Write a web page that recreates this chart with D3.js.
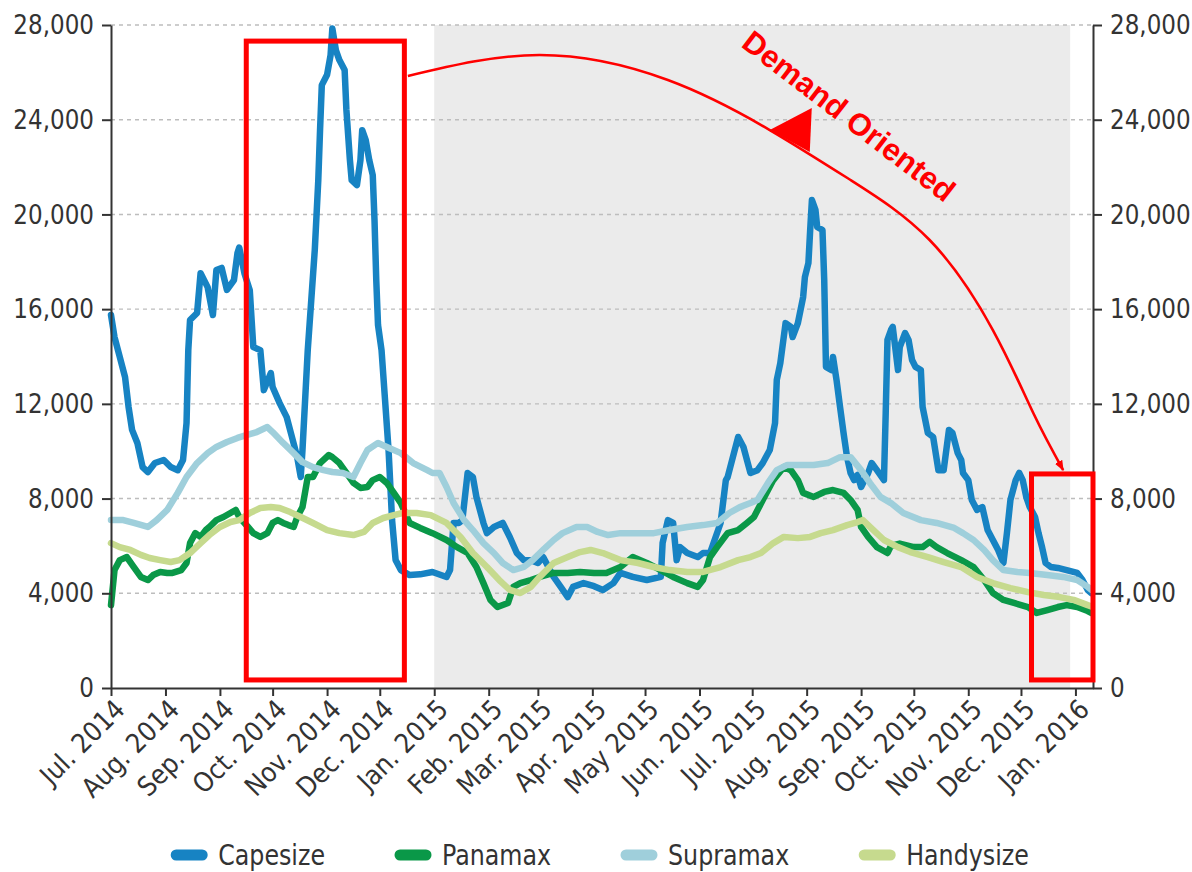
<!DOCTYPE html>
<html>
<head>
<meta charset="utf-8">
<script src="https://cdn.jsdelivr.net/npm/d3@7"></script>
<style>
  body { margin: 0; background: #ffffff; }
  svg { display: block; }
  .lbl { font-family: "DejaVu Sans Condensed", "Liberation Sans Narrow", "DejaVu Sans", sans-serif; font-stretch: condensed; fill: #333; }
</style>
</head>
<body>
<svg id="chart" width="1192" height="872"></svg>
<script>
// ---- data ----
const monthTicks = ["2014-07-01","2014-08-01","2014-09-01","2014-10-01","2014-11-01","2014-12-01",
  "2015-01-01","2015-02-01","2015-03-01","2015-04-01","2015-05-01","2015-06-01","2015-07-01",
  "2015-08-01","2015-09-01","2015-10-01","2015-11-01","2015-12-01","2016-01-01"];
const monthLabels = ["Jul. 2014","Aug. 2014","Sep. 2014","Oct. 2014","Nov. 2014","Dec. 2014",
  "Jan. 2015","Feb. 2015","Mar. 2015","Apr. 2015","May 2015","Jun. 2015","Jul. 2015",
  "Aug. 2015","Sep. 2015","Oct. 2015","Nov. 2015","Dec. 2015","Jan. 2016"];
const yTicks = [0, 4000, 8000, 12000, 16000, 20000, 24000, 28000];
const seriesNames = ["Capesize", "Panamax", "Supramax", "Handysize"];
const seriesColors = ["#1783c3", "#0a9848", "#9fcfdb", "#c6da8e"];

const capesize = [["2014-07-01",15750],["2014-07-03",14820],["2014-07-06",13980],["2014-07-09",13130],["2014-07-11",11870],["2014-07-13",10900],["2014-07-16",10350],["2014-07-19",9330],["2014-07-22",9120],["2014-07-26",9500],["2014-07-31",9630],["2014-08-04",9330],["2014-08-08",9200],["2014-08-11",9630],["2014-08-13",11190],["2014-08-14",14270],["2014-08-15",15540],["2014-08-19",15840],["2014-08-21",17520],["2014-08-25",16930],["2014-08-28",15750],["2014-08-30",17650],["2014-09-02",17740],["2014-09-05",16810],["2014-09-09",17230],["2014-09-11",18370],["2014-09-12",18600],["2014-09-15",17500],["2014-09-18",16800],["2014-09-20",14400],["2014-09-24",14270],["2014-09-26",12580],["2014-09-30",13300],["2014-10-01",12710],["2014-10-05",12030],["2014-10-09",11440],["2014-10-12",10600],["2014-10-15",9750],["2014-10-17",8910],["2014-10-18",10050],["2014-10-21",14270],["2014-10-23",16380],["2014-10-25",18500],["2014-10-27",21450],["2014-10-28",23560],["2014-10-29",25460],["2014-11-01",25900],["2014-11-03",26730],["2014-11-04",27850],["2014-11-06",26940],["2014-11-08",26520],["2014-11-11",26100],["2014-11-12",24410],["2014-11-14",22300],["2014-11-15",21450],["2014-11-18",21240],["2014-11-20",22300],["2014-11-21",23560],["2014-11-23",23140],["2014-11-25",22300],["2014-11-27",21660],["2014-11-28",19760],["2014-11-29",17230],["2014-11-30",15330],["2014-12-02",14270],["2014-12-04",12160],["2014-12-06",10050],["2014-12-08",7090],["2014-12-10",5410],["2014-12-13",4980],["2014-12-18",4770],["2014-12-24",4800],["2014-12-31",4900],["2015-01-08",4690],["2015-01-10",4980],["2015-01-12",6970],["2015-01-15",6970],["2015-01-17",7090],["2015-01-20",9080],["2015-01-23",8910],["2015-01-25",8070],["2015-01-29",6970],["2015-01-31",6540],["2015-02-04",6800],["2015-02-09",6970],["2015-02-13",6380],["2015-02-17",5700],["2015-02-21",5400],["2015-02-25",5400],["2015-03-01",5280],["2015-03-04",5530],["2015-03-10",4690],["2015-03-14",4270],["2015-03-18",3840],["2015-03-21",4270],["2015-03-27",4430],["2015-04-02",4300],["2015-04-07",4140],["2015-04-13",4430],["2015-04-17",4860],["2015-04-24",4690],["2015-05-02",4560],["2015-05-10",4690],["2015-05-11",6120],["2015-05-14",7090],["2015-05-17",6970],["2015-05-19",5400],["2015-05-21",5950],["2015-05-25",5700],["2015-05-31",5530],["2015-06-03",5700],["2015-06-07",5700],["2015-06-13",6970],["2015-06-16",8780],["2015-06-17",8900],["2015-06-23",10600],["2015-06-26",10180],["2015-06-30",9080],["2015-07-04",9200],["2015-07-07",9500],["2015-07-11",10050],["2015-07-14",11190],["2015-07-15",13010],["2015-07-17",13720],["2015-07-20",15410],["2015-07-23",15250],["2015-07-24",14820],["2015-07-27",15410],["2015-07-30",16510],["2015-07-31",17360],["2015-08-02",17950],["2015-08-03",19340],["2015-08-04",20610],["2015-08-06",20190],["2015-08-07",19470],["2015-08-10",19340],["2015-08-11",17230],["2015-08-12",13560],["2015-08-15",13430],["2015-08-16",13980],["2015-08-18",13010],["2015-08-20",11870],["2015-08-22",10770],["2015-08-24",9750],["2015-08-26",9080],["2015-08-28",8780],["2015-08-30",9000],["2015-09-01",8490],["2015-09-05",9080],["2015-09-07",9500],["2015-09-10",9200],["2015-09-14",8780],["2015-09-15",11610],["2015-09-16",14700],["2015-09-18",15120],["2015-09-19",15250],["2015-09-22",13430],["2015-09-23",14400],["2015-09-26",14990],["2015-09-28",14700],["2015-09-30",13850],["2015-10-02",13560],["2015-10-05",13430],["2015-10-06",11870],["2015-10-09",10770],["2015-10-12",10600],["2015-10-15",9200],["2015-10-18",9200],["2015-10-21",10900],["2015-10-23",10770],["2015-10-26",9920],["2015-10-28",9630],["2015-10-29",9080],["2015-11-01",8780],["2015-11-03",7940],["2015-11-06",7520],["2015-11-09",7640],["2015-11-12",6670],["2015-11-15",6250],["2015-11-18",5830],["2015-11-21",5280],["2015-11-23",6540],["2015-11-25",7940],["2015-11-28",8780],["2015-11-30",9080],["2015-12-02",8780],["2015-12-04",8070],["2015-12-06",7640],["2015-12-09",7220],["2015-12-11",6540],["2015-12-13",5950],["2015-12-15",5280],["2015-12-18",5110],["2015-12-22",5070],["2015-12-27",4980],["2016-01-02",4860],["2016-01-05",4560],["2016-01-08",4140],["2016-01-10",4010]];

const panamax = [["2014-07-01",3500],["2014-07-03",4980],["2014-07-06",5400],["2014-07-10",5530],["2014-07-14",5110],["2014-07-18",4690],["2014-07-22",4560],["2014-07-25",4770],["2014-07-29",4900],["2014-08-02",4860],["2014-08-05",4860],["2014-08-10",4980],["2014-08-13",5280],["2014-08-15",6120],["2014-08-18",6540],["2014-08-21",6380],["2014-08-24",6670],["2014-08-26",6800],["2014-08-30",7090],["2014-09-03",7220],["2014-09-07",7390],["2014-09-10",7520],["2014-09-12",7220],["2014-09-17",6800],["2014-09-20",6540],["2014-09-24",6380],["2014-09-28",6540],["2014-10-01",6970],["2014-10-04",7090],["2014-10-07",6970],["2014-10-10",6880],["2014-10-13",6800],["2014-10-15",7220],["2014-10-18",7640],["2014-10-21",8910],["2014-10-24",8910],["2014-10-28",9500],["2014-11-02",9840],["2014-11-04",9750],["2014-11-08",9500],["2014-11-12",9080],["2014-11-16",8660],["2014-11-20",8450],["2014-11-24",8490],["2014-11-27",8780],["2014-12-01",8910],["2014-12-05",8660],["2014-12-09",8240],["2014-12-13",7810],["2014-12-18",6970],["2014-12-24",6760],["2014-12-31",6540],["2015-01-08",6250],["2015-01-14",5950],["2015-01-20",5700],["2015-01-25",5110],["2015-01-29",4430],["2015-02-02",3720],["2015-02-06",3420],["2015-02-12",3590],["2015-02-15",4270],["2015-02-19",4430],["2015-02-25",4560],["2015-03-02",4690],["2015-03-10",4860],["2015-03-18",4860],["2015-03-25",4900],["2015-04-02",4860],["2015-04-09",4860],["2015-04-17",5110],["2015-04-24",5530],["2015-05-02",5280],["2015-05-10",4980],["2015-05-17",4690],["2015-05-25",4430],["2015-05-31",4270],["2015-06-03",4560],["2015-06-07",5530],["2015-06-11",5950],["2015-06-17",6540],["2015-06-23",6670],["2015-06-28",6970],["2015-07-02",7220],["2015-07-07",7940],["2015-07-13",8780],["2015-07-19",9330],["2015-07-23",9200],["2015-07-27",8780],["2015-07-30",8240],["2015-08-05",8070],["2015-08-11",8280],["2015-08-16",8360],["2015-08-22",8240],["2015-08-26",7940],["2015-08-30",7520],["2015-09-01",6800],["2015-09-05",6380],["2015-09-10",5950],["2015-09-16",5700],["2015-09-18",6000],["2015-09-23",6100],["2015-10-01",5950],["2015-10-06",5950],["2015-10-10",6170],["2015-10-14",5950],["2015-10-20",5700],["2015-10-28",5400],["2015-11-04",5110],["2015-11-10",4560],["2015-11-15",4010],["2015-11-21",3720],["2015-11-27",3590],["2015-12-05",3420],["2015-12-10",3170],["2015-12-16",3290],["2015-12-22",3420],["2015-12-27",3500],["2016-01-02",3420],["2016-01-08",3250],["2016-01-10",3170]];

const supramax = [["2014-07-01",7090],["2014-07-08",7090],["2014-07-14",6970],["2014-07-22",6800],["2014-07-27",7090],["2014-08-02",7520],["2014-08-08",8240],["2014-08-13",8910],["2014-08-19",9500],["2014-08-25",9920],["2014-08-30",10180],["2014-09-05",10390],["2014-09-11",10560],["2014-09-16",10680],["2014-09-22",10810],["2014-09-28",11020],["2014-10-01",10810],["2014-10-07",10350],["2014-10-13",9920],["2014-10-18",9540],["2014-10-24",9330],["2014-10-30",9200],["2014-11-04",9120],["2014-11-10",9080],["2014-11-16",8910],["2014-11-20",9500],["2014-11-24",10050],["2014-11-30",10350],["2014-12-05",10180],["2014-12-13",9920],["2014-12-20",9500],["2014-12-28",9200],["2014-12-31",9080],["2015-01-04",9080],["2015-01-08",8490],["2015-01-12",7810],["2015-01-18",7090],["2015-01-23",6670],["2015-01-29",6120],["2015-02-04",5700],["2015-02-09",5280],["2015-02-15",4980],["2015-02-21",5110],["2015-02-26",5400],["2015-03-04",5830],["2015-03-10",6250],["2015-03-15",6540],["2015-03-23",6800],["2015-03-29",6800],["2015-04-04",6590],["2015-04-10",6460],["2015-04-17",6540],["2015-04-27",6540],["2015-05-06",6540],["2015-05-15",6670],["2015-05-25",6800],["2015-06-03",6880],["2015-06-11",6970],["2015-06-18",7390],["2015-06-24",7640],["2015-06-30",7810],["2015-07-04",7940],["2015-07-10",8660],["2015-07-15",9200],["2015-07-21",9420],["2015-07-28",9420],["2015-08-05",9420],["2015-08-13",9500],["2015-08-20",9750],["2015-08-26",9750],["2015-09-01",9200],["2015-09-06",8660],["2015-09-12",8070],["2015-09-18",7810],["2015-09-25",7390],["2015-10-05",7090],["2015-10-14",6970],["2015-10-24",6760],["2015-10-29",6540],["2015-11-04",6250],["2015-11-10",5830],["2015-11-15",5400],["2015-11-21",4980],["2015-11-29",4900],["2015-12-06",4860],["2015-12-16",4770],["2015-12-25",4690],["2016-01-02",4560],["2016-01-08",4270],["2016-01-10",4150]];

const handysize = [["2014-07-01",6120],["2014-07-06",5950],["2014-07-12",5830],["2014-07-18",5620],["2014-07-23",5490],["2014-07-29",5400],["2014-08-04",5320],["2014-08-09",5400],["2014-08-15",5700],["2014-08-21",6120],["2014-08-26",6460],["2014-09-01",6800],["2014-09-07",7010],["2014-09-12",7090],["2014-09-18",7390],["2014-09-24",7600],["2014-09-30",7640],["2014-10-05",7600],["2014-10-11",7430],["2014-10-17",7220],["2014-10-24",6970],["2014-11-01",6670],["2014-11-08",6540],["2014-11-16",6460],["2014-11-22",6590],["2014-11-27",6970],["2014-12-03",7180],["2014-12-09",7300],["2014-12-14",7390],["2014-12-22",7390],["2014-12-30",7300],["2015-01-08",6970],["2015-01-16",6380],["2015-01-23",5700],["2015-01-31",5110],["2015-02-07",4560],["2015-02-13",4140],["2015-02-19",4010],["2015-02-25",4270],["2015-03-02",4690],["2015-03-10",5280],["2015-03-18",5530],["2015-03-25",5740],["2015-03-31",5830],["2015-04-07",5700],["2015-04-17",5400],["2015-04-27",5280],["2015-05-06",5110],["2015-05-15",4980],["2015-05-25",4900],["2015-06-03",4900],["2015-06-13",5110],["2015-06-23",5400],["2015-06-30",5530],["2015-07-06",5700],["2015-07-13",6120],["2015-07-19",6380],["2015-07-27",6330],["2015-08-03",6380],["2015-08-09",6540],["2015-08-16",6670],["2015-08-24",6880],["2015-08-30",7010],["2015-09-02",7090],["2015-09-08",6670],["2015-09-14",6250],["2015-09-22",5950],["2015-09-29",5740],["2015-10-09",5530],["2015-10-18",5320],["2015-10-28",5110],["2015-11-06",4690],["2015-11-15",4430],["2015-11-25",4220],["2015-12-05",4050],["2015-12-14",3930],["2015-12-23",3840],["2015-12-31",3720],["2016-01-08",3500],["2016-01-10",3450]];

const seriesValues = [capesize, panamax, supramax, handysize];

// annotation anchors (date, value)
const focusBand = ["2015-01-01", "2015-12-29"];
const boxBefore = [["2014-09-16", 27320], ["2014-12-15", 340]];
const boxAfter = [["2015-12-07", 9040], ["2016-01-11", 340]];
const arrowPath = [["2014-12-17",25845],["2015-03-02",26731],["2015-05-14",25676],["2015-07-11",23565],["2015-08-26",21453],["2015-10-10",18919],["2015-11-15",15118],["2015-12-08",11613],["2015-12-25",9206]];
const arrowMarkAt = ["2015-07-11", 23565];
const noteAt = ["2015-06-24", 27110];
const noteText = "Demand Oriented";

// ---- layout ----
const parse = d3.timeParse("%Y-%m-%d");
const svg = d3.select("#chart");
const W = 1192, H = 872;
svg.append("rect").attr("width", W).attr("height", H).attr("fill", "#fff");

const x = d3.scaleTime()
  .domain([parse("2014-07-01"), parse("2016-01-11")])
  .range([111, 1093]);
const y = d3.scaleLinear().domain([0, 28000]).range([688, 25]);

const plot = svg.append("g");

// shaded period
plot.append("rect")
  .attr("x", x(parse(focusBand[0])))
  .attr("y", y(28000))
  .attr("width", x(parse(focusBand[1])) - x(parse(focusBand[0])))
  .attr("height", y(0) - y(28000))
  .attr("fill", "#ebebeb");

// dashed gridlines
plot.append("g").selectAll("line")
  .data(yTicks.filter(d => d > 0))
  .join("line")
  .attr("x1", x.range()[0]).attr("x2", x.range()[1])
  .attr("y1", d => y(d)).attr("y2", d => y(d))
  .attr("stroke", "#bdbdbd").attr("stroke-width", 1.4)
  .attr("stroke-dasharray", "4,4");

// series lines
const line = d3.line()
  .x(d => x(parse(d[0])))
  .y(d => y(d[1]))
  .curve(d3.curveLinear);

plot.append("g").selectAll("path")
  .data(seriesValues)
  .join("path")
  .attr("d", d => line(d))
  .attr("fill", "none")
  .attr("stroke", (d, i) => seriesColors[i])
  .attr("stroke-width", 6.5)
  .attr("stroke-linejoin", "round")
  .attr("stroke-linecap", "round");

// axes
const axisColor = "#333";
const fmt = d3.format(",");
const left = svg.append("g").attr("transform", `translate(${x.range()[0]},0)`)
  .call(d3.axisLeft(y).tickValues(yTicks).tickFormat(fmt).tickSize(9).tickSizeOuter(0));
const right = svg.append("g").attr("transform", `translate(${x.range()[1]},0)`)
  .call(d3.axisRight(y).tickValues(yTicks).tickFormat(fmt).tickSize(9).tickSizeOuter(0));
const bottom = svg.append("g").attr("transform", `translate(0,${y(0)})`)
  .call(d3.axisBottom(x).tickValues(monthTicks.map(parse)).tickFormat((d, i) => monthLabels[i]).tickSize(8).tickSizeOuter(0));

[left, right, bottom].forEach(g => {
  g.select(".domain").attr("stroke", axisColor).attr("stroke-width", 2);
  g.selectAll(".tick line").attr("stroke", axisColor).attr("stroke-width", 2);
  g.selectAll(".tick text").attr("class", "lbl").attr("font-size", 27).attr("fill", "#333");
});
left.selectAll(".tick text").attr("x", null).attr("transform", "translate(-17,0) scale(0.95,1)");
right.selectAll(".tick text").attr("x", null).attr("transform", "translate(17,0) scale(0.95,1)");
bottom.selectAll(".tick text")
  .attr("text-anchor", "end")
  .attr("dy", 0)
  .attr("y", 0)
  .attr("transform", "translate(15,23) rotate(-45)");

// legend
const legend = svg.append("g");
const items = legend.selectAll("g").data(seriesNames).join("g");
items.append("line")
  .attr("x1", 5).attr("x2", 31).attr("y1", 0).attr("y2", 0)
  .attr("stroke", (d, i) => seriesColors[i]).attr("stroke-width", 11).attr("stroke-linecap", "round");
const legendScale = 0.91;
items.append("text").attr("class", "lbl")
  .attr("transform", `translate(47,0) scale(${legendScale},1)`)
  .attr("dy", "0.35em")
  .attr("font-size", 29).attr("fill", "#333")
  .text(d => d);
const widths = [];
items.each(function () {
  widths.push(47 + legendScale * this.querySelector("text").getComputedTextLength());
});
const gap = 70;
const total = d3.sum(widths) + gap * (widths.length - 1);
let cursor = 600 - total / 2;
items.attr("transform", (d, i) => {
  const t = `translate(${cursor},855)`;
  cursor += widths[i] + gap;
  return t;
});

// annotations
const red = "#ff0000";
const ann = svg.append("g");
[boxBefore, boxAfter].forEach(b => {
  const x0 = x(parse(b[0][0])), x1 = x(parse(b[1][0]));
  const y0 = y(b[0][1]), y1 = y(b[1][1]);
  ann.append("rect")
    .attr("x", x0).attr("y", y0)
    .attr("width", x1 - x0).attr("height", y1 - y0)
    .attr("fill", "none").attr("stroke", red).attr("stroke-width", 5);
});

svg.append("defs").append("marker")
  .attr("id", "tip").attr("viewBox", "0 0 10 10")
  .attr("refX", 9).attr("refY", 5)
  .attr("markerWidth", 4).attr("markerHeight", 4)
  .attr("orient", "auto")
  .append("path").attr("d", "M0,1 L10,5 L0,9 Z").attr("fill", red);

const arrowLine = d3.line()
  .x(d => x(parse(d[0])))
  .y(d => y(d[1]))
  .curve(d3.curveNatural);
ann.append("path")
  .attr("d", arrowLine(arrowPath))
  .attr("fill", "none").attr("stroke", red).attr("stroke-width", 2.6)
  .attr("marker-end", "url(#tip)");

const mx = x(parse(arrowMarkAt[0])), my = y(arrowMarkAt[1]);
ann.append("path")
  .attr("d", "M0,0 L42,-22 L40,22 Z")
  .attr("transform", `translate(${mx},${my})`)
  .attr("fill", red);

ann.append("text")
  .attr("transform", `translate(${x(parse(noteAt[0]))},${y(noteAt[1])}) rotate(37.5)`)
  .attr("font-family", "'Liberation Sans', Arial, sans-serif")
  .attr("font-weight", "bold")
  .attr("font-size", 31)
  .attr("fill", red)
  .text(noteText);
</script>
</body>
</html>
